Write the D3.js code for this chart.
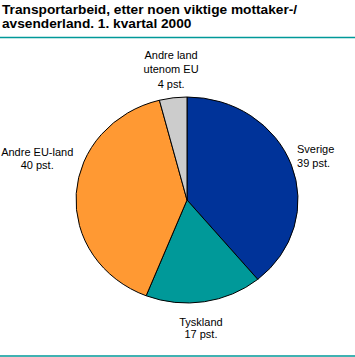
<!DOCTYPE html>
<html><head><meta charset="utf-8">
<script src="https://cdn.jsdelivr.net/npm/d3@7"></script>
<style>
html,body{margin:0;padding:0;background:#fff;}
svg{display:block;}
text{font-family:"Liberation Sans",Arial,sans-serif;fill:#000;}
</style></head>
<body>
<svg id="chart" width="355" height="357"></svg>
<script>
const titleLines = ["Transportarbeid, etter noen viktige mottaker-/", "avsenderland. 1. kvartal 2000"];
const categories = ["Sverige", "Tyskland", "Andre EU-land", "Andre land utenom EU"];
const values = [39, 17, 40, 4];
const labelLines = [["Sverige", "39 pst."], ["Tyskland", "17 pst."], ["Andre EU-land", "40 pst."], ["Andre land", "utenom EU", "4 pst."]];
const colors = ["#003399", "#009999", "#FF9933", "#CCCCCC"];

// layout (not data)
const W = 355, H = 357;
const cx = 187, cy = 200, rx = 111, ry = 103;
const k = ry / rx;
const labelLayout = [
  {anchor: "start", dx: 5.6, dy: -12, lh: 13.5},
  {anchor: "middle", dx: -3.4, dy: 24, lh: 12},
  {anchor: "middle", dx: -39, dy: -37.5, lh: 12.5},
  {anchor: "middle", dx: -2, dy: -39, lh: 14.5}
];

const svg = d3.select("#chart");

// title
const title = svg.append("text").attr("x", 2).attr("y", 14)
  .style("font-weight", "bold").style("font-size", "13.7px");
titleLines.forEach((t, i) => title.append("tspan").attr("x", 2).attr("y", 14 + i * 13.5).text(t));

// rules
svg.append("line").attr("x1", 0).attr("x2", W).attr("y1", 37.5).attr("y2", 37.5)
  .attr("stroke", "#009999").attr("stroke-width", 1.5);
svg.append("line").attr("x1", 0).attr("x2", W).attr("y1", 356).attr("y2", 356)
  .attr("stroke", "#009999").attr("stroke-width", 1.5);

const pie = d3.pie().sort(null).value(d => d)(values);
const arc = d3.arc().innerRadius(0).outerRadius(rx);

const g = svg.append("g").attr("transform", `translate(${cx},${cy}) scale(1,${k})`);
g.selectAll("path").data(pie).join("path")
  .attr("d", arc)
  .attr("fill", (d, i) => colors[i])
  .attr("stroke", "#000").attr("stroke-width", 1)
  .attr("vector-effect", "non-scaling-stroke");

// labels
pie.forEach((d, i) => {
  const a = (d.startAngle + d.endAngle) / 2;
  const px = cx + rx * Math.sin(a);
  const py = cy - rx * k * Math.cos(a);
  const L = labelLayout[i];
  const t = svg.append("text").attr("text-anchor", L.anchor).style("font-size", "11px");
  labelLines[i].forEach((s, j) => t.append("tspan")
    .attr("x", px + L.dx).attr("y", py + L.dy + j * L.lh).text(s));
});
</script>
</body></html>
